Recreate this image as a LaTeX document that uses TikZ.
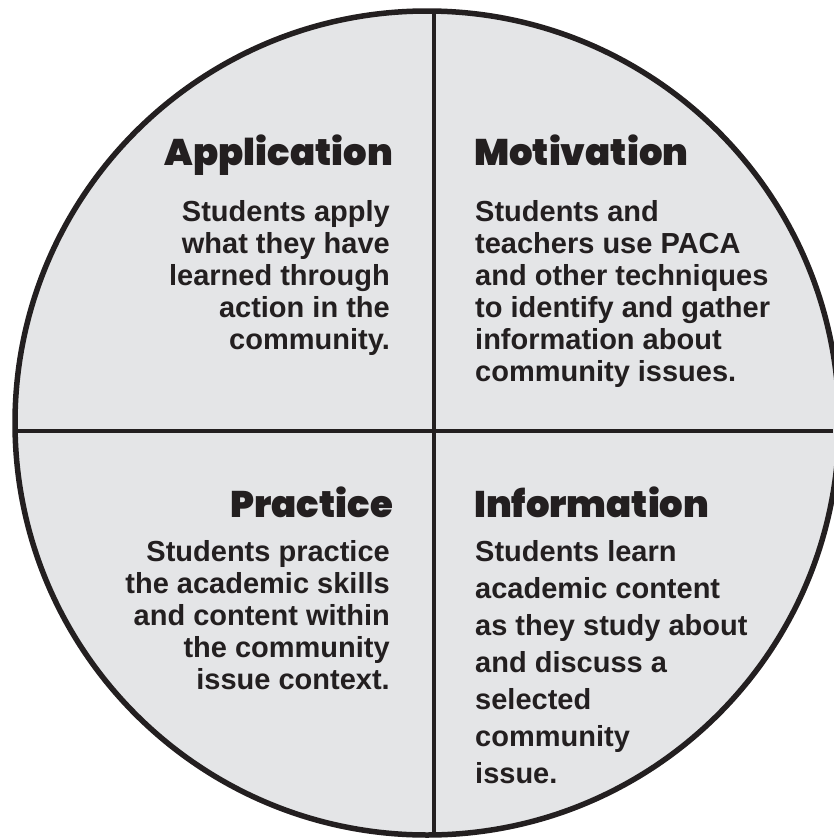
\documentclass[tikz,border=0pt]{standalone}
\usepackage{fontspec}
\setmainfont{Liberation Sans}
\newfontfamily\headfont{Poppins Black}
\definecolor{ink}{HTML}{231F20}
\definecolor{disc}{HTML}{E4E5E7}
\tikzset{
  head/.style={inner sep=0pt, font=\headfont\fontsize{37}{37}\selectfont, text=ink},
  body/.style={inner sep=0pt, font=\bfseries\fontsize{29}{32}\selectfont, text=ink},
  bodywide/.style={inner sep=0pt, font=\bfseries\fontsize{29}{37}\selectfont, text=ink},
}
\begin{document}
\begin{tikzpicture}[x=1pt,y=-1pt]
\useasboundingbox (0,0) rectangle (833,838);
\node[circle, draw=ink, fill=disc, line width=5.5pt, minimum size=824pt, inner sep=0pt] (c) at (427,423) {};
\coordinate (top) at (434,0);
\coordinate (bot) at (434,838);
\coordinate (lft) at (0,431);
\coordinate (rgt) at (833,431);
\begin{scope}
\clip (427,423) circle (412);
\draw[ink, line width=4.5pt] (top) -- (bot);
\draw[ink, line width=4.5pt] (lft) -- (rgt);
\end{scope}
\node[head, anchor=base east] (h1) at (393,165) {Application};
\node[head, anchor=base west] (h2) at (474,165) {Motivation};
\node[head, anchor=base east] (h3) at (393,517) {Practice};
\node[head, anchor=base west] (h4) at (474,517) {Information};
\node[body, anchor=north east, align=right] (b1) at (390,200) {Students apply\\what they have\\learned through\\action in the\\community.};
\node[body, anchor=north west, align=left] (b2) at (475,200) {Students and\\teachers use PACA\\and other techniques\\to identify and gather\\information about\\community issues.};
\node[body, anchor=north east, align=right] (b3) at (390,540) {Students practice\\the academic skills\\and content within\\the community\\issue context.};
\node[bodywide, anchor=north west, align=left] (b4) at (475,540) {Students learn\\academic content\\as they study about\\and discuss a\\selected\\community\\issue.};
\end{tikzpicture}
\end{document}
